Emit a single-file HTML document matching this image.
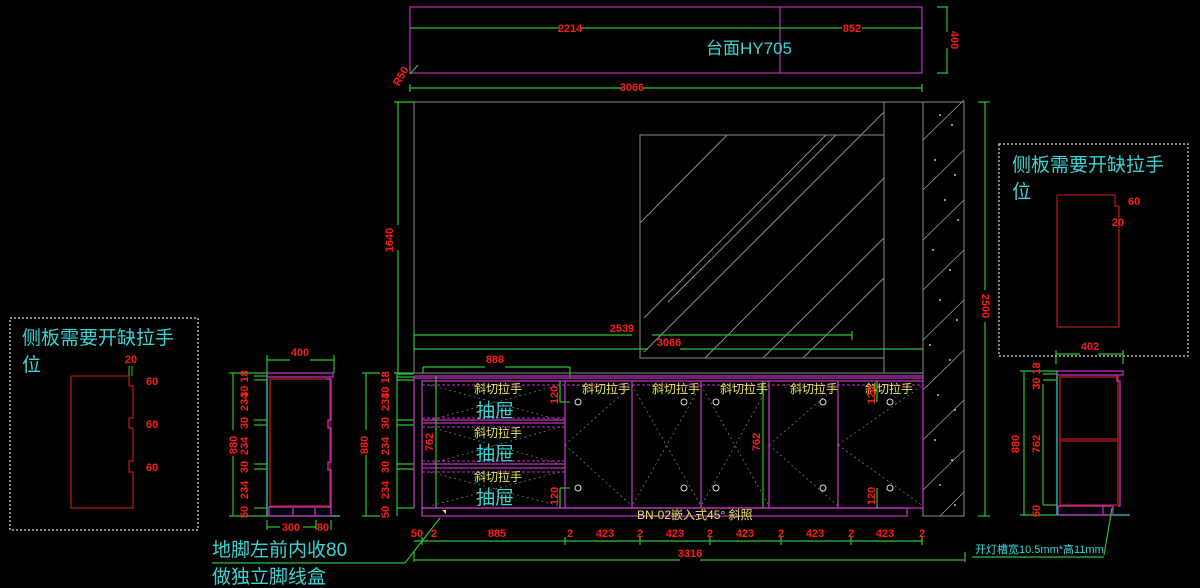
<!DOCTYPE html>
<html><head><meta charset="utf-8"><style>
html,body{margin:0;padding:0;background:#000;}
svg{display:block;}
text{font-family:"Liberation Sans","Noto Sans CJK SC",sans-serif;}
.r{fill:#ff1a1a;font-size:11px;font-weight:bold;font-family:"Liberation Sans Narrow","Liberation Sans",sans-serif;}
.y{fill:#e6e65a;font-size:12px;}
.c{fill:#36d6d6;}
</style></head><body>
<svg width="1200" height="588" viewBox="0 0 1200 588" xmlns="http://www.w3.org/2000/svg">
<rect width="1200" height="588" fill="#000"/>

<g fill="none" stroke="#c030c0" stroke-width="1.2">
<rect x="410" y="7" width="512" height="66"/>
<line x1="780" y1="7" x2="780" y2="73"/>
</g>
<g stroke="#2fc12f" stroke-width="1.2" fill="none">
<line x1="410" y1="28" x2="560" y2="28"/><line x1="580" y1="28" x2="785" y2="28"/><line x1="785" y1="28" x2="842" y2="28"/><line x1="862" y1="28" x2="922" y2="28"/>
<line x1="410" y1="88" x2="622" y2="88"/><line x1="642" y1="88" x2="922" y2="88"/>
<line x1="410" y1="84" x2="410" y2="92"/><line x1="922" y1="84" x2="922" y2="92"/>
<line x1="937" y1="7" x2="948" y2="7"/><line x1="937" y1="73" x2="948" y2="73"/>
<line x1="947" y1="7" x2="947" y2="32"/><line x1="947" y1="48" x2="947" y2="73"/>
<line x1="410" y1="74" x2="418" y2="65"/>
</g>
<text class="r" x="570" y="32" text-anchor="middle" font-size="12">2214</text>
<text class="r" x="852" y="32" text-anchor="middle" font-size="12">852</text>
<text class="r" x="632" y="91" text-anchor="middle" font-size="12">3066</text>
<text class="r" transform="translate(951,40) rotate(90)" text-anchor="middle" font-size="11">400</text>
<text class="r" transform="translate(404,78) rotate(-60)" text-anchor="middle" font-size="10">R50</text>
<text class="c" x="706" y="54" font-size="17">台面HY705</text>

<g stroke="#8a8a8a" stroke-width="1" fill="none">
<rect x="414" y="102" width="509" height="271"/>
<line x1="884" y1="102" x2="884" y2="373"/>
<rect x="640" y="135" width="244" height="223"/>
<line x1="640" y1="223" x2="727" y2="135"/>
<line x1="644" y1="318" x2="826" y2="135"/>
<line x1="668" y1="302" x2="836" y2="135"/>
<line x1="644" y1="352" x2="884" y2="112"/>
<line x1="705" y1="358" x2="884" y2="178"/>
<line x1="763" y1="358" x2="884" y2="238"/>
<line x1="803" y1="358" x2="884" y2="278"/>
<rect x="923" y="102" width="41" height="414"/>
</g>
<g stroke="#9a9a9a" stroke-width="0.8">
<line x1="923" y1="140" x2="964" y2="100"/>
<line x1="923" y1="190" x2="964" y2="150"/>
<line x1="923" y1="240" x2="964" y2="200"/>
<line x1="923" y1="290" x2="964" y2="250"/>
<line x1="923" y1="340" x2="964" y2="300"/>
<line x1="923" y1="390" x2="964" y2="350"/>
<line x1="923" y1="440" x2="964" y2="400"/>
<line x1="923" y1="490" x2="964" y2="450"/>
<line x1="940" y1="516" x2="964" y2="492"/>
</g>
<g fill="#bbb">
<circle cx="940" cy="115" r="1"/><circle cx="952" cy="125" r="1"/><circle cx="935" cy="160" r="1"/><circle cx="955" cy="175" r="1"/><circle cx="945" cy="200" r="1"/><circle cx="958" cy="220" r="1"/><circle cx="933" cy="250" r="1"/><circle cx="950" cy="270" r="1"/><circle cx="940" cy="300" r="1"/><circle cx="957" cy="320" r="1"/><circle cx="930" cy="345" r="1"/><circle cx="950" cy="360" r="1"/><circle cx="938" cy="395" r="1"/><circle cx="955" cy="410" r="1"/><circle cx="935" cy="440" r="1"/><circle cx="952" cy="460" r="1"/><circle cx="940" cy="485" r="1"/><circle cx="955" cy="505" r="1"/>
</g>
<g stroke="#2fc12f" stroke-width="1.2" fill="none">
<line x1="398" y1="102" x2="398" y2="225"/><line x1="398" y1="250" x2="398" y2="373"/>
<line x1="394" y1="102" x2="414" y2="102"/><line x1="394" y1="373" x2="414" y2="373"/>
<line x1="414" y1="335" x2="632" y2="335"/><line x1="652" y1="335" x2="852" y2="335"/><line x1="852" y1="331" x2="852" y2="340"/>
<line x1="414" y1="349" x2="648" y2="349"/><line x1="680" y1="349" x2="923" y2="349"/>
<line x1="414" y1="331" x2="414" y2="352"/>
<line x1="423" y1="367" x2="485" y2="367"/><line x1="505" y1="367" x2="570" y2="367"/>
<line x1="423" y1="367" x2="423" y2="373"/><line x1="570" y1="367" x2="570" y2="378"/>
<line x1="985" y1="102" x2="985" y2="290"/><line x1="985" y1="322" x2="985" y2="516"/>
<line x1="978" y1="102" x2="990" y2="102"/><line x1="978" y1="516" x2="990" y2="516"/>
</g>
<text class="r" transform="translate(393,240) rotate(-90)" text-anchor="middle" font-size="12">1640</text>
<text class="r" transform="translate(982,306) rotate(90)" text-anchor="middle" font-size="12">2500</text>
<text class="r" x="622" y="332" text-anchor="middle" font-size="12">2539</text>
<text class="r" x="669" y="346" text-anchor="middle" font-size="12">3066</text>
<text class="r" x="495" y="363" text-anchor="middle" font-size="12">888</text>

<g stroke="#c030c0" stroke-width="1.3" fill="none">
<line x1="414" y1="376" x2="923" y2="376"/>
<line x1="414" y1="378" x2="923" y2="378"/>
<line x1="414" y1="376" x2="414" y2="508"/>
<rect x="422" y="381" width="501" height="127"/>
<rect x="422" y="508" width="485" height="8"/>
<line x1="422" y1="420" x2="565" y2="420"/><line x1="422" y1="423" x2="565" y2="423"/>
<line x1="422" y1="464" x2="565" y2="464"/><line x1="422" y1="468" x2="565" y2="468"/>
<line x1="565" y1="381" x2="565" y2="508"/>
<line x1="632" y1="381" x2="632" y2="508"/>
<line x1="701" y1="381" x2="701" y2="508"/>
<line x1="769" y1="381" x2="769" y2="508"/>
<line x1="838" y1="381" x2="838" y2="508"/>
</g>
<g stroke="#c030c0" stroke-width="1" stroke-dasharray="3,2" fill="none">
<line x1="422" y1="385" x2="923" y2="385"/>
<line x1="422" y1="418" x2="565" y2="418"/>
<line x1="422" y1="427" x2="565" y2="427"/>
<line x1="422" y1="461" x2="565" y2="461"/>
<line x1="422" y1="472" x2="565" y2="472"/>
</g>
<g stroke="#777" stroke-width="0.8" stroke-dasharray="2,3" fill="none">
<line x1="430" y1="385" x2="560" y2="420"/><line x1="560" y1="385" x2="430" y2="420"/>
<line x1="430" y1="427" x2="560" y2="464"/><line x1="560" y1="427" x2="430" y2="464"/>
<line x1="430" y1="472" x2="560" y2="506"/><line x1="560" y1="472" x2="430" y2="506"/>
<line x1="565" y1="445" x2="632" y2="385"/><line x1="565" y1="445" x2="632" y2="506"/>
<line x1="632" y1="385" x2="701" y2="506"/><line x1="701" y1="385" x2="632" y2="506"/>
<line x1="701" y1="385" x2="769" y2="506"/><line x1="769" y1="385" x2="701" y2="506"/>
<line x1="769" y1="445" x2="838" y2="385"/><line x1="769" y1="445" x2="838" y2="506"/>
<line x1="838" y1="445" x2="923" y2="385"/><line x1="838" y1="445" x2="923" y2="506"/>
</g>
<g stroke="#2fc12f" stroke-width="1.2" fill="none">
<line x1="436" y1="376" x2="436" y2="508"/>
<line x1="560" y1="381" x2="560" y2="402"/><line x1="560" y1="488" x2="560" y2="508"/>
<line x1="560" y1="402" x2="570" y2="402"/><line x1="560" y1="488" x2="570" y2="488"/>
<line x1="763" y1="381" x2="763" y2="508"/>
<line x1="877" y1="381" x2="877" y2="402"/><line x1="877" y1="488" x2="877" y2="508"/>
</g>
<g stroke="#ddd" stroke-width="1" fill="none">
<circle cx="578" cy="402" r="3"/><circle cx="684" cy="402" r="3"/><circle cx="716" cy="402" r="3"/><circle cx="823" cy="402" r="3"/><circle cx="890" cy="402" r="3"/>
<circle cx="578" cy="488" r="3"/><circle cx="684" cy="488" r="3"/><circle cx="716" cy="488" r="3"/><circle cx="823" cy="488" r="3"/><circle cx="890" cy="488" r="3"/>
</g>
<text class="y" x="474" y="393">斜切拉手</text>
<text class="y" x="582" y="393">斜切拉手</text>
<text class="y" x="652" y="393">斜切拉手</text>
<text class="y" x="720" y="393">斜切拉手</text>
<text class="y" x="790" y="393">斜切拉手</text>
<text class="y" x="865" y="393">斜切拉手</text>
<text class="y" x="474" y="437">斜切拉手</text>
<text class="y" x="474" y="481">斜切拉手</text>
<text class="c" x="476" y="417" font-size="19">抽屉</text>
<text class="c" x="476" y="460" font-size="19">抽屉</text>
<text class="c" x="476" y="504" font-size="19">抽屉</text>
<text class="r" transform="translate(558,395) rotate(-90)" text-anchor="middle">120</text>
<text class="r" transform="translate(558,496) rotate(-90)" text-anchor="middle">120</text>
<text class="r" transform="translate(875,395) rotate(-90)" text-anchor="middle">120</text>
<text class="r" transform="translate(875,496) rotate(-90)" text-anchor="middle">120</text>
<text class="r" transform="translate(433,442) rotate(-90)" text-anchor="middle">762</text>
<text class="r" transform="translate(760,442) rotate(-90)" text-anchor="middle">762</text>
<text class="y" x="637" y="519" font-size="11">BN-02嵌入式45° 斜照</text>
<polygon points="442,510 446,510 446,514" fill="#e6e64a"/>

<g stroke="#2fc12f" stroke-width="1.2" fill="none">
<line x1="366" y1="373" x2="366" y2="430"/><line x1="366" y1="455" x2="366" y2="516"/>
<line x1="362" y1="373" x2="380" y2="373"/><line x1="362" y1="516" x2="380" y2="516"/>
<line x1="397" y1="373" x2="397" y2="516"/>
<line x1="397" y1="374" x2="414" y2="374"/><line x1="397" y1="377" x2="414" y2="377"/><line x1="397" y1="380" x2="414" y2="380"/>
<line x1="397" y1="420" x2="414" y2="420"/><line x1="397" y1="425" x2="414" y2="425"/>
<line x1="397" y1="464" x2="414" y2="464"/><line x1="397" y1="469" x2="414" y2="469"/>
<line x1="397" y1="508" x2="414" y2="508"/>
</g>
<text class="r" transform="translate(368,445) rotate(-90)" text-anchor="middle" font-size="12">880</text>
<g class="r" font-size="10">
<text transform="translate(389,385) rotate(-90)" text-anchor="middle">30 18</text>
<text transform="translate(389,402) rotate(-90)" text-anchor="middle">234</text>
<text transform="translate(389,423) rotate(-90)" text-anchor="middle">30</text>
<text transform="translate(389,446) rotate(-90)" text-anchor="middle">234</text>
<text transform="translate(389,467) rotate(-90)" text-anchor="middle">30</text>
<text transform="translate(389,490) rotate(-90)" text-anchor="middle">234</text>
<text transform="translate(389,512) rotate(-90)" text-anchor="middle">50</text>
</g>

<g stroke="#2fc12f" stroke-width="1.2" fill="none">
<line x1="414" y1="541" x2="923" y2="541"/>
<line x1="414" y1="560" x2="680" y2="560"/><line x1="700" y1="560" x2="965" y2="560"/>
<line x1="414" y1="552" x2="414" y2="562"/><line x1="965" y1="552" x2="965" y2="562"/>
<line x1="405" y1="563" x2="440" y2="518"/>
<line x1="212" y1="563" x2="405" y2="563"/>
</g>
<g stroke="#2fc12f" stroke-width="1.2">
<line x1="422" y1="537" x2="422" y2="545"/><line x1="565" y1="537" x2="565" y2="545"/><line x1="640" y1="537" x2="640" y2="545"/><line x1="710" y1="537" x2="710" y2="545"/><line x1="781" y1="537" x2="781" y2="545"/><line x1="851" y1="537" x2="851" y2="545"/><line x1="922" y1="537" x2="922" y2="545"/>
</g>
<g class="r" font-size="12" text-anchor="middle">
<text x="417" y="537">50</text><text x="434" y="537">2</text><text x="497" y="537">885</text><text x="570" y="537">2</text><text x="605" y="537">423</text><text x="640" y="537">2</text><text x="675" y="537">423</text><text x="710" y="537">2</text><text x="745" y="537">423</text><text x="781" y="537">2</text><text x="815" y="537">423</text><text x="851" y="537">2</text><text x="885" y="537">423</text><text x="922" y="537">2</text>
<text x="690" y="557">3316</text>
</g>

<g fill="none" stroke-width="1.3">
<line x1="267" y1="373" x2="267" y2="516" stroke="#36c6c6"/>
<line x1="267" y1="516" x2="340" y2="516" stroke="#36c6c6"/>
<rect x="267" y="373" width="66" height="4" stroke="#c030c0"/>
<rect x="270" y="379" width="60" height="127" stroke="#c01818"/>
<polyline points="326,379 331,379 331,420 328,420 328,428 331,428 331,462 328,462 328,470 331,470 331,507 326,507" stroke="#c030c0"/>
<rect x="269" y="507" width="62" height="9" stroke="#c030c0"/>
<line x1="293" y1="507" x2="293" y2="516" stroke="#c030c0"/>
<line x1="315" y1="507" x2="315" y2="516" stroke="#c030c0"/>
</g>
<g stroke="#2fc12f" stroke-width="1.2" fill="none">
<line x1="267" y1="360" x2="290" y2="360"/><line x1="310" y1="360" x2="334" y2="360"/>
<line x1="267" y1="355" x2="267" y2="373"/><line x1="334" y1="355" x2="334" y2="373"/>
<line x1="233" y1="373" x2="233" y2="430"/><line x1="233" y1="456" x2="233" y2="516"/>
<line x1="229" y1="373" x2="267" y2="373"/><line x1="229" y1="516" x2="267" y2="516"/>
<line x1="254" y1="376" x2="267" y2="376"/><line x1="254" y1="380" x2="267" y2="380"/>
<line x1="254" y1="420" x2="267" y2="420"/><line x1="254" y1="425" x2="267" y2="425"/>
<line x1="254" y1="464" x2="267" y2="464"/><line x1="254" y1="469" x2="267" y2="469"/>
<line x1="254" y1="508" x2="267" y2="508"/>
<line x1="267" y1="527" x2="280" y2="527"/><line x1="303" y1="527" x2="316" y2="527"/><line x1="267" y1="520" x2="267" y2="530"/><line x1="316" y1="520" x2="316" y2="530"/><line x1="331" y1="520" x2="331" y2="530"/>
</g>
<text class="r" x="300" y="356" text-anchor="middle" font-size="12">400</text>
<text class="r" transform="translate(237,445) rotate(-90)" text-anchor="middle" font-size="12">880</text>
<g class="r" font-size="10">
<text transform="translate(248,384) rotate(-90)" text-anchor="middle">30 18</text>
<text transform="translate(248,402) rotate(-90)" text-anchor="middle">234</text>
<text transform="translate(248,423) rotate(-90)" text-anchor="middle">30</text>
<text transform="translate(248,446) rotate(-90)" text-anchor="middle">234</text>
<text transform="translate(248,467) rotate(-90)" text-anchor="middle">30</text>
<text transform="translate(248,490) rotate(-90)" text-anchor="middle">234</text>
<text transform="translate(248,512) rotate(-90)" text-anchor="middle">50</text>
</g>
<text class="r" x="291" y="531" text-anchor="middle" font-size="12">300</text>
<text class="r" x="323" y="531" text-anchor="middle" font-size="12">80</text>
<text class="c" x="212" y="556" font-size="19">地脚左前内收80</text>
<text class="c" x="212" y="583" font-size="19">做独立脚线盒</text>

<rect x="10" y="318" width="188" height="212" fill="none" stroke="#ddd" stroke-width="1.2" stroke-dasharray="2,2"/>
<text class="c" x="22" y="344" font-size="19">侧板需要开缺拉手</text>
<text class="c" x="22" y="371" font-size="19">位</text>
<polyline points="71,376 129,376 129,386 133,386 133,418 129,418 129,428 133,428 133,461 129,461 129,472 133,472 133,508 71,508 71,376" fill="none" stroke="#b01818" stroke-width="1.3"/>
<line x1="129" y1="366" x2="129" y2="376" stroke="#2fc12f"/><line x1="132" y1="366" x2="132" y2="376" stroke="#2fc12f"/>
<text class="r" x="131" y="363" text-anchor="middle" font-size="11">20</text>
<text class="r" x="146" y="385" font-size="9">60</text>
<text class="r" x="146" y="428" font-size="9">60</text>
<text class="r" x="146" y="471" font-size="9">60</text>

<rect x="999" y="144" width="189" height="212" fill="none" stroke="#ddd" stroke-width="1.2" stroke-dasharray="2,2"/>
<text class="c" x="1012" y="171" font-size="19">侧板需要开缺拉手</text>
<text class="c" x="1012" y="198" font-size="19">位</text>
<polyline points="1057,195 1115,195 1115,206 1119,206 1119,327 1057,327 1057,195" fill="none" stroke="#b01818" stroke-width="1.3"/>
<text class="r" x="1118" y="226" text-anchor="middle" font-size="11">20</text>
<text class="r" x="1128" y="205" font-size="9">60</text>

<g fill="none" stroke-width="1.3">
<line x1="1057" y1="371" x2="1057" y2="515" stroke="#36c6c6"/>
<line x1="1057" y1="515" x2="1130" y2="515" stroke="#36c6c6"/>
<rect x="1057" y="371" width="66" height="4" stroke="#c030c0"/>
<rect x="1060" y="377" width="58" height="128" stroke="#c01818"/>
<line x1="1060" y1="439" x2="1118" y2="439" stroke="#c01818"/>
<line x1="1060" y1="441" x2="1118" y2="441" stroke="#c01818"/>
<polyline points="1117,375 1117,381 1120,381 1120,506 1118,506" stroke="#c030c0"/>
<rect x="1058" y="506" width="55" height="9" stroke="#c030c0"/>
<line x1="1103" y1="506" x2="1103" y2="515" stroke="#c030c0"/>
</g>
<g stroke="#2fc12f" stroke-width="1.2" fill="none">
<line x1="1056" y1="354" x2="1080" y2="354"/><line x1="1098" y1="354" x2="1123" y2="354"/>
<line x1="1056" y1="350" x2="1056" y2="364"/><line x1="1123" y1="350" x2="1123" y2="364"/>
<line x1="1024" y1="371" x2="1024" y2="515"/>
<line x1="1020" y1="371" x2="1057" y2="371"/><line x1="1020" y1="515" x2="1057" y2="515"/>
<line x1="1043" y1="384" x2="1043" y2="505"/>
<line x1="1043" y1="374" x2="1057" y2="374"/><line x1="1043" y1="380" x2="1057" y2="380"/><line x1="1043" y1="505" x2="1057" y2="505"/>
<line x1="1112" y1="508" x2="1104" y2="555"/>
<line x1="972" y1="557" x2="1104" y2="557"/>
</g>
<text class="r" x="1090" y="350" text-anchor="middle" font-size="12">402</text>
<text class="r" transform="translate(1019,444) rotate(-90)" text-anchor="middle" font-size="12">880</text>
<text class="r" transform="translate(1040,444) rotate(-90)" text-anchor="middle" font-size="12">762</text>
<text class="r" transform="translate(1040,376) rotate(-90)" text-anchor="middle" font-size="9">30 18</text>
<text class="r" transform="translate(1040,511) rotate(-90)" text-anchor="middle" font-size="9">50</text>
<text class="c" x="975" y="553" font-size="11">开灯槽宽10.5mm*高11mm</text>
</svg>
</body></html>
